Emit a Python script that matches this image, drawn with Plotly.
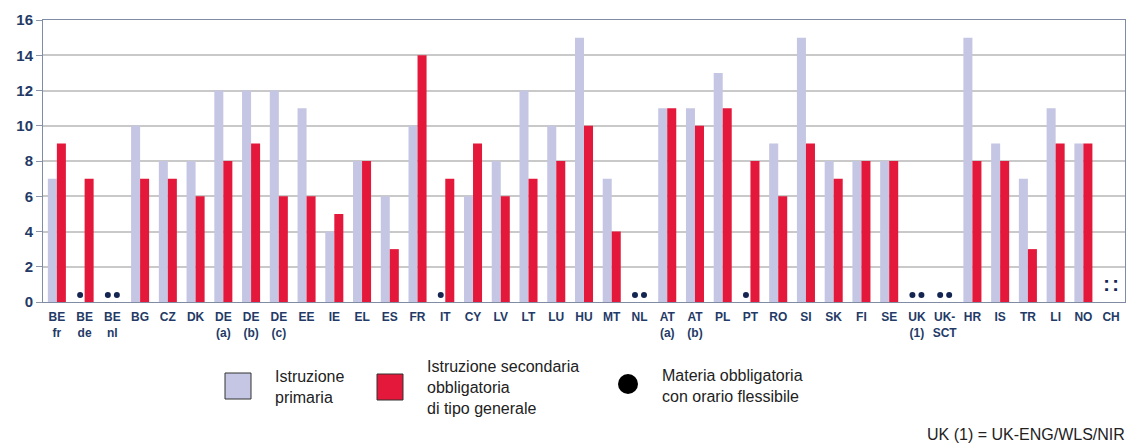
import plotly.graph_objects as go

categories = ["BE<br>fr", "BE<br>de", "BE<br>nl", "BG", "CZ", "DK", "DE<br>(a)", "DE<br>(b)", "DE<br>(c)",
              "EE", "IE", "EL", "ES", "FR", "IT", "CY", "LV", "LT", "LU", "HU", "MT", "NL",
              "AT<br>(a)", "AT<br>(b)", "PL", "PT", "RO", "SI", "SK", "FI", "SE", "UK<br>(1)", "UK-<br>SCT",
              "HR", "IS", "TR", "LI", "NO", "CH"]

primary = [7, None, None, 10, 8, 8, 12, 12, 12,
           11, 4, 8, 6, 10, None, 6, 8, 12, 10, 15, 7, None,
           11, 11, 13, None, 9, 15, 8, 8, 8, None, None,
           15, 9, 7, 11, 9, None]

secondary = [9, 7, None, 7, 7, 6, 8, 9, 6,
             6, 5, 8, 3, 14, 7, 9, 6, 7, 8, 10, 4, None,
             11, 10, 11, 8, 6, 9, 7, 8, 8, None, None,
             8, 8, 3, 9, 9, None]

# flexible-hours markers (primary / secondary)
flex_primary = ["BE<br>de", "BE<br>nl", "IT", "NL", "PT", "UK<br>(1)", "UK-<br>SCT"]
flex_secondary = ["BE<br>nl", "NL", "UK<br>(1)", "UK-<br>SCT"]
not_available = ["CH"]

yticks = [0, 2, 4, 6, 8, 10, 12, 14, 16]

C_PRIM = "#c4c6e3"
C_SEC = "#e4183a"
C_DOT = "#152552"
C_TXT = "#243a66"

# page body has an 8px margin; work in window pixels and convert
OFF = 8
W, H = 1137 - 2 * OFF, 444 - OFF
PLOT_L, PLOT_R, PLOT_T, PLOT_B = 43, 1125, 20, 302  # window pixels
L = PLOT_L - OFF
R = W - (PLOT_R - OFF)
T = PLOT_T - OFF
B = H - (PLOT_B - OFF)
PW, PH = PLOT_R - PLOT_L, PLOT_B - PLOT_T

def xp(px):
    return (px - PLOT_L) / PW

def yp(py):
    return (PLOT_B - py) / PH

idx = list(range(len(categories)))
bargap = 0.35
half = (1 - bargap) / 4  # offset of each bar center from category center

fig = go.Figure()
fig.add_trace(go.Bar(x=idx, y=primary, marker_color=C_PRIM, name="Istruzione primaria",
                     marker_line_width=0))
fig.add_trace(go.Bar(x=idx, y=secondary, marker_color=C_SEC, name="Istruzione secondaria",
                     marker_line_width=0))

fx, fy = [], []
for c in flex_primary:
    fx.append(categories.index(c) - half)
    fy.append(0.4)
for c in flex_secondary:
    fx.append(categories.index(c) + half)
    fy.append(0.4)
fig.add_trace(go.Scatter(x=fx, y=fy, mode="markers",
                         marker=dict(color=C_DOT, size=6), hoverinfo="skip"))

nx, ny = [], []
for c in not_available:
    nx += [categories.index(c) - half, categories.index(c) + half]
    ny += [0.9, 0.9]
fig.add_trace(go.Scatter(x=nx, y=ny, mode="text", text=[":"] * len(nx),
                         textfont=dict(family="Liberation Sans", size=20, color=C_DOT, weight="bold"),
                         hoverinfo="skip"))

fig.update_layout(
    width=W, height=H,
    margin=dict(l=L, r=R, t=T, b=B),
    paper_bgcolor="white", plot_bgcolor="white",
    barmode="group", bargap=bargap, bargroupgap=0,
    showlegend=False,
    font=dict(family="Liberation Sans", color=C_TXT),
)
fig.update_xaxes(range=[-0.5, len(categories) - 0.5], tickmode="array", tickvals=idx,
                 ticktext=[f"<b>{c}</b>" for c in categories],
                 tickfont=dict(size=12, color=C_TXT, family="Liberation Sans"),
                 showgrid=False, showline=True, linecolor="#7f8ca3", linewidth=1, mirror=True,
                 ticks="outside", ticklen=4, tickcolor="rgba(0,0,0,0)", zeroline=False)
fig.update_yaxes(range=[0, 16], tickmode="array", tickvals=yticks,
                 ticktext=[f"<b>{v}</b>" for v in yticks],
                 tickfont=dict(size=15, color=C_TXT, family="Liberation Sans"),
                 showgrid=True, gridcolor="#c9c9c9", gridwidth=1.5,
                 showline=True, linecolor="#7f8ca3", linewidth=1, mirror=True,
                 ticks="outside", ticklen=6, tickcolor="#8a96aa", zeroline=False)

# custom legend
fig.add_shape(type="rect", xref="paper", yref="paper",
              x0=xp(225), x1=xp(251), y0=yp(399), y1=yp(373),
              fillcolor=C_PRIM, line=dict(color="#333333", width=1))
fig.add_shape(type="rect", xref="paper", yref="paper",
              x0=xp(377), x1=xp(403), y0=yp(400), y1=yp(374),
              fillcolor=C_SEC, line=dict(color="#333333", width=1))
fig.add_shape(type="circle", xref="paper", yref="paper",
              x0=xp(618), x1=xp(638), y0=yp(394), y1=yp(374),
              fillcolor="black", line=dict(color="black", width=0))

legend_font = dict(family="Liberation Sans", size=16, color="#222222")
fig.add_annotation(xref="paper", yref="paper", x=xp(273), y=yp(387), xanchor="left", yanchor="middle",
                   text="Istruzione<br>primaria", showarrow=False, align="left", font=legend_font)
fig.add_annotation(xref="paper", yref="paper", x=xp(425), y=yp(387), xanchor="left", yanchor="middle",
                   text="Istruzione secondaria<br>obbligatoria<br>di tipo generale", showarrow=False,
                   align="left", font=legend_font)
fig.add_annotation(xref="paper", yref="paper", x=xp(660), y=yp(386), xanchor="left", yanchor="middle",
                   text="Materia obbligatoria<br>con orario flessibile", showarrow=False,
                   align="left", font=legend_font)
fig.add_annotation(xref="paper", yref="paper", x=xp(1127), y=yp(434), xanchor="right", yanchor="middle",
                   text="UK (1) = UK-ENG/WLS/NIR", showarrow=False, align="right",
                   font=dict(family="Liberation Sans", size=16, color="#222222"))

fig.write_html("out.html")
